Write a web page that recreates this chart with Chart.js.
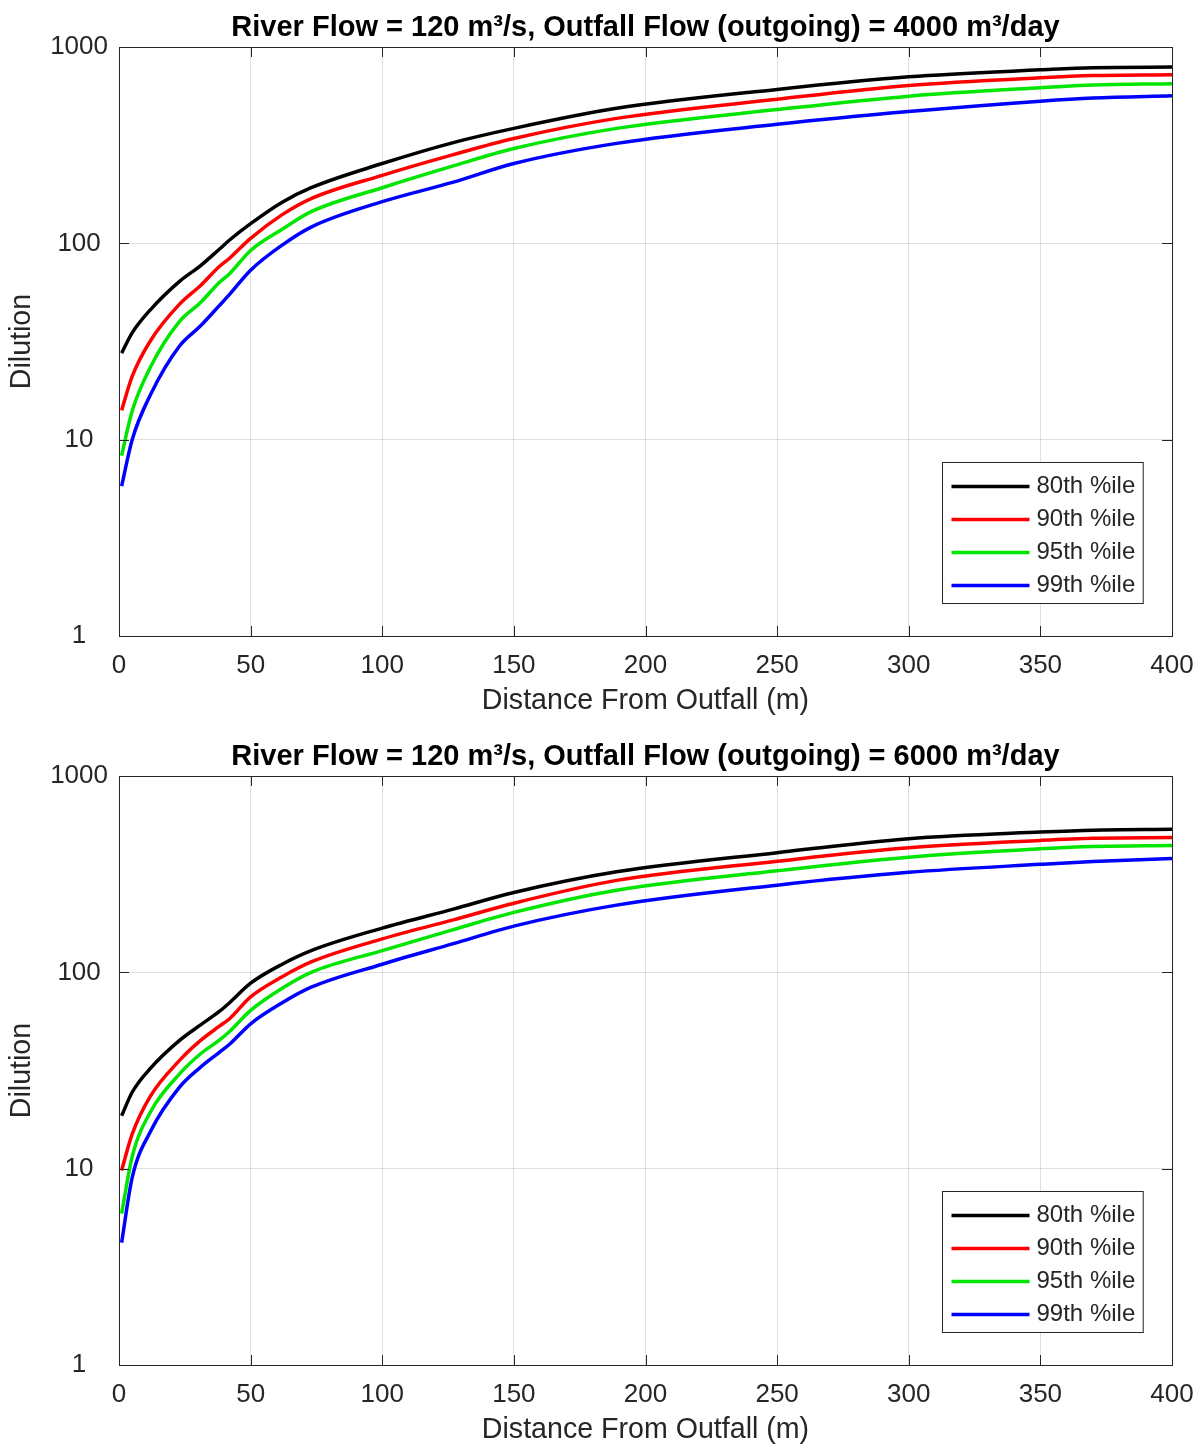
<!DOCTYPE html>
<html>
<head>
<meta charset="utf-8">
<script src="https://cdn.jsdelivr.net/npm/chart.js@4.4.1/dist/chart.umd.min.js"></script>
<style>
  html, body { margin: 0; padding: 0; background: #fff; overflow: hidden; }
  #wrap { width: 1203px; height: 1450px; overflow: hidden; }
  canvas { display: block; }
</style>
</head>
<body>
<div id="wrap">
  <canvas id="chartTop" width="1203" height="729"></canvas>
  <canvas id="chartBottom" width="1203" height="729"></canvas>
</div>
<script>
// distance from outfall (m), shared by every curve
const distance = [1, 5, 12, 23, 31, 38, 42, 50, 62, 73, 100, 127, 150, 189, 250, 300, 350, 370, 400];
const percentiles = ["80th %ile", "90th %ile", "95th %ile", "99th %ile"];
const lineColors = ["#000000", "#ff0000", "#00e600", "#0000ff"];
const xTicks = [0, 50, 100, 150, 200, 250, 300, 350, 400];
const yTicks = [1, 10, 100, 1000];

// outfall flow 4000 m3/day
const dil4000_80 = [27.6, 35, 46, 64, 77, 93, 104, 126, 162, 192, 255, 326, 385, 487, 608, 705, 765, 785, 790];
const dil4000_90 = [14.1, 21, 32, 49, 61, 76, 84, 106, 140, 169, 222, 283, 342, 433, 542, 637, 697, 715, 722];
const dil4000_95 = [8.3, 14, 23.5, 40, 50, 63, 70, 92, 118, 145, 192, 248, 304, 385, 480, 562, 620, 640, 650];
const dil4000_99 = [5.8, 10, 17, 30, 38, 48, 55, 73, 98, 121, 163, 205, 255, 323, 404, 469, 530, 550, 564];

// outfall flow 6000 m3/day
const dil6000_80 = [18.6, 24.5, 32.5, 45, 54, 63, 70, 88, 110, 129, 168, 210, 255, 325, 407, 479, 518, 530, 535];
const dil6000_90 = [9.8, 15, 23.5, 35.6, 45, 53, 58, 75, 95, 113, 148, 185, 225, 294, 368, 431, 470, 482, 486];
const dil6000_95 = [5.9, 11.5, 19.5, 30.4, 38.5, 45, 50, 64, 83, 100, 129, 165, 202, 262, 329, 386, 426, 438, 443];
const dil6000_99 = [4.2, 9, 15.5, 26, 32.9, 39, 43, 54.7, 70, 84, 110, 140, 172, 220, 278, 323, 355, 367, 380];

const axisColor = "#262626";
const fontFamily = '"Liberation Sans", Arial, Helvetica, sans-serif';

// box, inward ticks and legend drawn the way MATLAB does it
const matlabFrame = {
  id: "matlabFrame",
  afterDraw(chart) {
    const ctx = chart.ctx;
    const a = chart.chartArea;
    const xs = chart.scales.x;
    const ys = chart.scales.y;
    const tl = 10;
    ctx.save();
    ctx.strokeStyle = axisColor;
    ctx.lineWidth = 1;
    ctx.beginPath();
    xTicks.forEach(v => {
      const px = Math.round(xs.getPixelForValue(v)) + 0.5;
      ctx.moveTo(px, a.top); ctx.lineTo(px, a.top + tl);
      ctx.moveTo(px, a.bottom); ctx.lineTo(px, a.bottom - tl);
    });
    yTicks.forEach(v => {
      const py = Math.round(ys.getPixelForValue(v)) + 0.5;
      ctx.moveTo(a.left, py); ctx.lineTo(a.left + tl, py);
      ctx.moveTo(a.right, py); ctx.lineTo(a.right - tl, py);
    });
    ctx.stroke();
    ctx.strokeRect(Math.round(a.left) + 0.5, Math.round(a.top) + 0.5,
      Math.round(a.right - a.left), Math.round(a.bottom - a.top));

    // legend in the lower right corner
    ctx.font = "24px " + fontFamily;
    const sets = chart.data.datasets;
    const textW = Math.max(...sets.map(d => ctx.measureText(d.label).width));
    const rowH = 33, sample = 78;
    const boxW = 9 + sample + 7 + textW + 8;
    const boxH = rowH * sets.length + 9;
    const bx = Math.round(a.right - 29 - boxW) + 0.5;
    const by = Math.round(a.bottom - 33 - boxH) + 0.5;
    ctx.fillStyle = "#fff";
    ctx.fillRect(bx, by, boxW, boxH);
    ctx.strokeRect(bx, by, boxW, boxH);
    ctx.textBaseline = "middle";
    ctx.textAlign = "left";
    sets.forEach((d, i) => {
      const ry = by + 24 + i * rowH;
      ctx.strokeStyle = d.borderColor;
      ctx.lineWidth = 3.5;
      ctx.beginPath();
      ctx.moveTo(bx + 9, ry); ctx.lineTo(bx + 9 + sample, ry);
      ctx.stroke();
      ctx.fillStyle = axisColor;
      ctx.fillText(d.label, bx + 9 + sample + 7, ry);
    });
    ctx.restore();
  }
};

function makeChart(canvasId, flow, series) {
  const ctx = document.getElementById(canvasId).getContext("2d");
  return new Chart(ctx, {
    type: "line",
    data: {
      datasets: series.map((vals, i) => ({
        label: percentiles[i],
        data: distance.map((x, j) => ({ x: x, y: vals[j] })),
        borderColor: lineColors[i],
        borderWidth: 3.5,
        pointRadius: 0,
        cubicInterpolationMode: "monotone",
        fill: false
      }))
    },
    options: {
      responsive: false,
      animation: false,
      layout: { padding: { right: 31, left: 0, top: 0, bottom: 0 } },
      plugins: {
        legend: { display: false },
        tooltip: { enabled: false },
        title: {
          display: true,
          fullSize: false,
          text: "River Flow = 120 m³/s, Outfall Flow (outgoing) = " + flow + " m³/day",
          color: "#000",
          font: { family: fontFamily, size: 29, weight: "bold", lineHeight: 1 },
          padding: { top: 13, bottom: 5 }
        }
      },
      scales: {
        x: {
          type: "linear",
          min: 0,
          max: 400,
          afterBuildTicks: s => { s.ticks = xTicks.map(v => ({ value: v })); },
          afterFit: s => { s.height = 93; s.paddingLeft = 0; s.paddingRight = 0; },
          grid: { color: "rgba(38,38,38,0.15)", drawTicks: false },
          border: { display: false },
          ticks: { color: axisColor, padding: 14, maxRotation: 0,
                   font: { family: fontFamily, size: 26 } },
          title: { display: true, text: "Distance From Outfall (m)", color: axisColor,
                   font: { family: fontFamily, size: 28.6 }, padding: { top: 11, bottom: 11 } }
        },
        y: {
          type: "logarithmic",
          min: 1,
          max: 1000,
          afterBuildTicks: s => { s.ticks = yTicks.map(v => ({ value: v })); },
          afterFit: s => { s.width = 119; },
          grid: { color: "rgba(38,38,38,0.15)", drawTicks: false },
          border: { display: false },
          ticks: { color: axisColor, padding: 11, crossAlign: "center",
                   font: { family: fontFamily, size: 26 },
                   callback: v => String(v) },
          title: { display: true, text: "Dilution", color: axisColor,
                   font: { family: fontFamily, size: 28.6 }, padding: { top: 5, bottom: 5 } }
        }
      }
    },
    plugins: [matlabFrame]
  });
}

makeChart("chartTop", 4000, [dil4000_80, dil4000_90, dil4000_95, dil4000_99]);
makeChart("chartBottom", 6000, [dil6000_80, dil6000_90, dil6000_95, dil6000_99]);
</script>
</body>
</html>
